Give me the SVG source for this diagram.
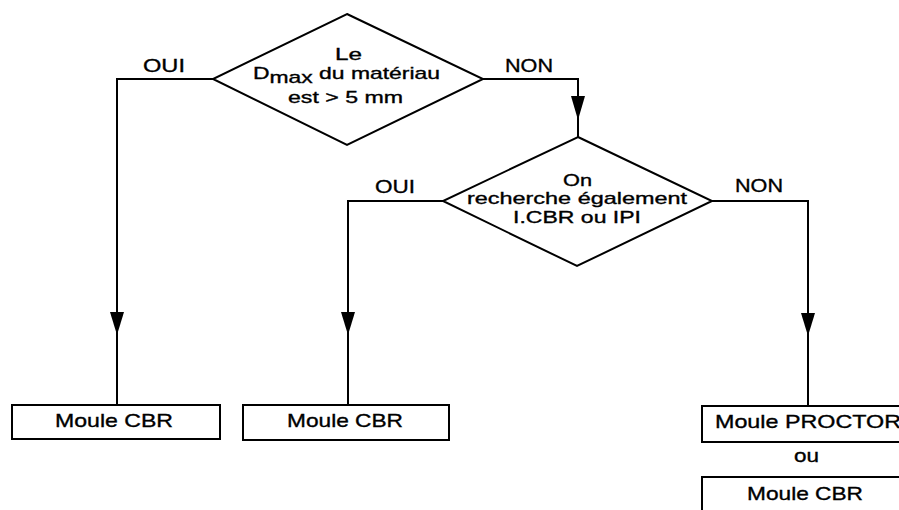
<svg xmlns="http://www.w3.org/2000/svg" width="899" height="510" viewBox="0 0 899 510">
<defs>
<style>
.s{fill:none;stroke:#000;stroke-width:2}
.n{fill:#fff;stroke:#000;stroke-width:2}
.t{font-family:"Liberation Sans",Arial,sans-serif;font-size:19px;fill:#000;stroke:#000;stroke-width:0.35}
.d{font-size:17px}
.a{fill:#000;stroke:none}
</style>
</defs>
<rect width="899" height="510" fill="#fff"/>
<g id="connectors">
<polyline class="s" points="213,79 117,79 117,405"/>
<polygon class="a" points="110,312 124,312 117,335"/>
<polyline class="s" points="483,79 578,79 578,137"/>
<polygon class="a" points="571,96 585,96 578,120"/>
<polyline class="s" points="443,201 348,201 348,405"/>
<polygon class="a" points="341,312 355,312 348,335"/>
<polyline class="s" points="712,201 808,201 808,406"/>
<polygon class="a" points="801,313 815,313 808,336"/>
<text class="t" x="143" y="72" textLength="42" lengthAdjust="spacingAndGlyphs">OUI</text>
<text class="t" x="505" y="72" textLength="48" lengthAdjust="spacingAndGlyphs">NON</text>
<text class="t" x="375" y="193" textLength="40" lengthAdjust="spacingAndGlyphs">OUI</text>
<text class="t" x="735" y="192" textLength="48" lengthAdjust="spacingAndGlyphs">NON</text>
</g>
<g id="decision1">
<polygon class="n" points="347,14 483,79 347,145 213,79"/>
<text class="t d" x="335" y="60" textLength="27" lengthAdjust="spacingAndGlyphs">Le</text>
<text class="t d" x="253" y="79" textLength="187" lengthAdjust="spacingAndGlyphs">D<tspan dy="4">max</tspan><tspan dy="-4"> du matériau</tspan></text>
<text class="t d" x="288" y="103" textLength="115" lengthAdjust="spacingAndGlyphs">est &gt; 5 mm</text>
</g>
<g id="decision2">
<polygon class="n" points="578,137 712,201 577,266 443,201"/>
<text class="t d" x="563" y="186" textLength="29" lengthAdjust="spacingAndGlyphs">On</text>
<text class="t d" x="467" y="204" textLength="220" lengthAdjust="spacingAndGlyphs">recherche également</text>
<text class="t d" x="513" y="223" textLength="128" lengthAdjust="spacingAndGlyphs">I.CBR ou IPI</text>
</g>
<g id="box1">
<rect class="n" x="12" y="405" width="208" height="34"/>
<text class="t" x="55" y="427" textLength="118" lengthAdjust="spacingAndGlyphs">Moule CBR</text>
</g>
<g id="box2">
<rect class="n" x="243" y="405" width="206" height="35"/>
<text class="t" x="287" y="427" textLength="116" lengthAdjust="spacingAndGlyphs">Moule CBR</text>
</g>
<g id="box3">
<rect class="n" x="702" y="406" width="210" height="36"/>
<text class="t" x="715" y="428" textLength="186" lengthAdjust="spacingAndGlyphs">Moule PROCTOR</text>
<text class="t" x="794" y="462" textLength="25" lengthAdjust="spacingAndGlyphs">ou</text>
<rect class="n" x="702" y="477" width="210" height="45"/>
<text class="t" x="747" y="500" textLength="116" lengthAdjust="spacingAndGlyphs">Moule CBR</text>
</g>
</svg>
